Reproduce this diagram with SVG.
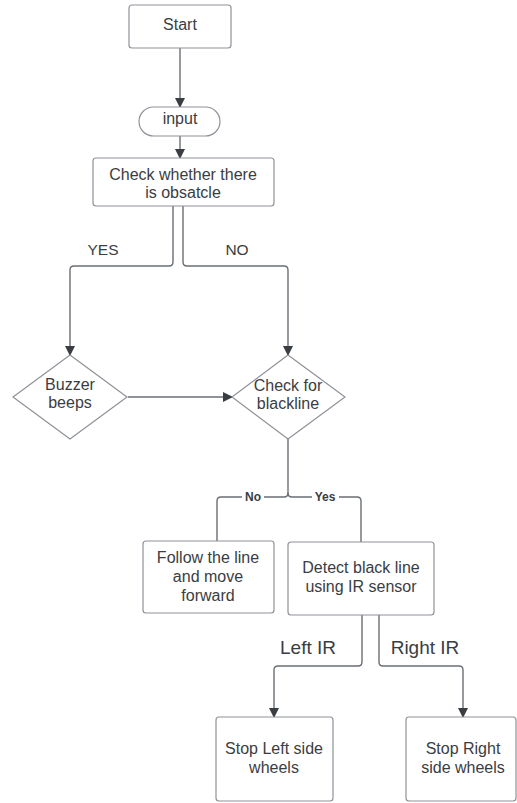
<svg xmlns="http://www.w3.org/2000/svg" width="517" height="803" viewBox="0 0 517 803">
<style>
.box{fill:#fff;stroke:#8e9298;stroke-width:1.2}
.t{font-family:"Liberation Sans",Arial,sans-serif;font-size:16px;fill:#3a3d42;text-anchor:middle}
.lbl{font-family:"Liberation Sans",Arial,sans-serif;font-size:15.5px;fill:#3a3d42;text-anchor:middle}
.lbl2{font-family:"Liberation Sans",Arial,sans-serif;font-size:19px;fill:#3a3d42;text-anchor:middle}
.sm{font-family:"Liberation Sans",Arial,sans-serif;font-size:12px;font-weight:bold;fill:#3a3d42;text-anchor:middle}
.c{fill:none;stroke:#6a6e74;stroke-width:1.4}
</style>
<defs>
<marker id="ah" markerUnits="userSpaceOnUse" markerWidth="10" markerHeight="12" refX="9" refY="5" orient="auto">
<path d="M0,0 L10,5 L0,10 Z" fill="#3a3d42"/>
</marker>
</defs>
<rect width="517" height="803" fill="#fff"/>
<g id="connectors">
<path class="c" d="M180,48 V107" marker-end="url(#ah)"/>
<path class="c" d="M180,136 V158" marker-end="url(#ah)"/>
<path class="c" d="M173,206 V262 Q173,266 169,266 H74 Q70,266 70,270 V355" marker-end="url(#ah)"/>
<path class="c" d="M183,206 V262 Q183,266 187,266 H284 Q288,266 288,270 V355" marker-end="url(#ah)"/>
<path class="c" d="M128,397 H232" marker-end="url(#ah)"/>
<path class="c" d="M288,439 V493 Q288,497 284,497 H221 Q217,497 217,501 V541"/>
<path class="c" d="M288,493 Q288,497 292,497 H357 Q361,497 361,501 V542"/>
<path class="c" d="M362,615 V662 Q362,666 358,666 H278 Q274,666 274,670 V717" marker-end="url(#ah)"/>
<path class="c" d="M379,615 V662 Q379,666 383,666 H459 Q463,666 463,670 V717" marker-end="url(#ah)"/>
<text class="lbl" x="103" y="255">YES</text>
<text class="lbl" x="237" y="255">NO</text>
<rect x="242" y="490" width="22" height="14" fill="#fff"/>
<text class="sm" x="253" y="501">No</text>
<rect x="312" y="490" width="27" height="14" fill="#fff"/>
<text class="sm" x="325" y="501">Yes</text>
<text class="lbl2" x="308" y="654">Left IR</text>
<text class="lbl2" x="425" y="654">Right IR</text>
</g>
<g id="start">
<rect class="box" x="129" y="5" width="102" height="43" rx="3"/>
<text class="t" x="180" y="30">Start</text>
</g>
<g id="input">
<rect class="box" x="139" y="107" width="81" height="29" rx="14.5"/>
<text class="t" x="180" y="124">input</text>
</g>
<g id="check-obstacle">
<rect class="box" x="93" y="158" width="181" height="48" rx="3"/>
<text class="t" x="183" y="180">Check whether there</text>
<text class="t" x="183" y="198">is obsatcle</text>
</g>
<g id="buzzer">
<polygon class="box" points="70,355 127,397 70,439 13,397"/>
<text class="t" x="70" y="390">Buzzer</text>
<text class="t" x="70" y="408">beeps</text>
</g>
<g id="check-blackline">
<polygon class="box" points="288,355 345,397 288,439 232,397"/>
<text class="t" x="288" y="391">Check for</text>
<text class="t" x="288" y="409">blackline</text>
</g>
<g id="follow">
<rect class="box" x="143" y="541" width="131" height="72" rx="3"/>
<text class="t" x="208" y="563">Follow the line</text>
<text class="t" x="208" y="582">and move</text>
<text class="t" x="208" y="601">forward</text>
</g>
<g id="detect">
<rect class="box" x="288" y="542" width="146" height="73" rx="3"/>
<text class="t" x="361" y="573">Detect black line</text>
<text class="t" x="361" y="592">using IR sensor</text>
</g>
<g id="stop-left">
<rect class="box" x="216" y="717" width="117" height="84" rx="3"/>
<text class="t" x="274" y="754">Stop Left side</text>
<text class="t" x="274" y="773">wheels</text>
</g>
<g id="stop-right">
<rect class="box" x="406" y="717" width="110" height="84" rx="3"/>
<text class="t" x="463" y="754">Stop Right</text>
<text class="t" x="463" y="773">side wheels</text>
</g>
</svg>
